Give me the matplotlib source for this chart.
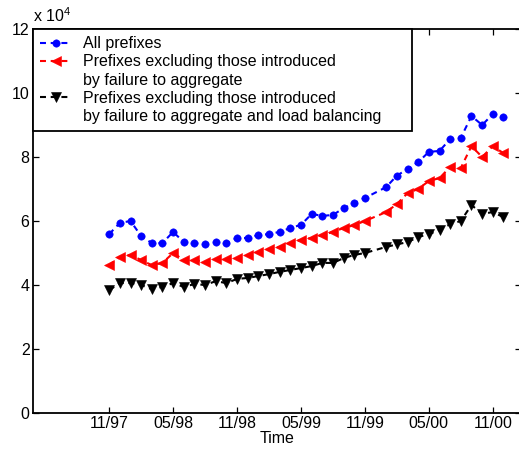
import matplotlib
matplotlib.use("Agg")
import matplotlib.pyplot as plt
from matplotlib.lines import Line2D
from matplotlib.ticker import FixedLocator, FuncFormatter

plt.rcParams["font.family"] = ["Liberation Sans", "DejaVu Sans"]
plt.rcParams["mathtext.fontset"] = "custom"
plt.rcParams["mathtext.rm"] = "Liberation Sans"
plt.rcParams["mathtext.it"] = "Liberation Sans"
plt.rcParams["lines.scale_dashes"] = False

FS = 11.5

# Monthly samples (Dec 1999 is missing from the record)
dates = [
    "1997-11", "1997-12", "1998-01", "1998-02", "1998-03", "1998-04",
    "1998-05", "1998-06", "1998-07", "1998-08", "1998-09", "1998-10",
    "1998-11", "1998-12", "1999-01", "1999-02", "1999-03", "1999-04",
    "1999-05", "1999-06", "1999-07", "1999-08", "1999-09", "1999-10",
    "1999-11", "2000-01", "2000-02", "2000-03", "2000-04",
    "2000-05", "2000-06", "2000-07", "2000-08", "2000-09", "2000-10",
    "2000-11", "2000-12",
]

all_prefixes = [
    55900, 59400, 60000, 55300, 53100, 53100, 56600, 53400, 53100, 52700,
    53400, 53000, 54700, 54700, 55600, 55900, 56600, 57800, 58800, 62200,
    61600, 61900, 64000, 65600, 67200, 70600, 74200, 76200, 78400,
    81600, 81900, 85600, 86000, 92800, 90000, 93400, 92500,
]

excl_aggregation = [
    46200, 48800, 49400, 47800, 46200, 46900, 50000, 47800, 47800, 47200,
    48100, 48100, 48400, 49400, 50300, 51200, 51900, 53100, 54100, 54700,
    55600, 56600, 57800, 58700, 60000, 62800, 65300, 68700, 70000,
    72500, 73400, 76900, 76600, 83400, 80000, 83400, 81200,
]

excl_aggr_and_lb = [
    38400, 40600, 40600, 40000, 38700, 39400, 40600, 39400, 40300, 40000,
    41200, 40600, 41900, 42200, 42800, 43400, 44100, 44700, 45300, 45900,
    46900, 46900, 48400, 49400, 50000, 51900, 52700, 53400, 55000,
    55900, 57200, 59000, 60000, 65000, 62200, 62800, 61200,
]

tick_dates = ["1997-11", "1998-05", "1998-11", "1999-05", "1999-11", "2000-05", "2000-11"]
tick_labels = ["11/97", "05/98", "11/98", "05/99", "11/99", "05/00", "11/00"]
ytick_values = [0, 20000, 40000, 60000, 80000, 100000, 120000]

labels = [
    "All prefixes",
    "Prefixes excluding those introduced\nby failure to aggregate",
    "Prefixes excluding those introduced\nby failure to aggregate and load balancing",
]


def month_index(s):
    y, m = s.split("-")
    return (int(y) - 1997) * 12 + int(m) - 11


x = [month_index(d) for d in dates]
tick_pos = [month_index(d) for d in tick_dates]

fig = plt.figure(figsize=(5.19, 4.51), dpi=100)
ax = fig.add_axes([33 / 519, (451 - 413) / 451, (520.5 - 33) / 519, (413 - 29) / 451])

common = dict(linestyle="--", dashes=(4.3, 3.4), linewidth=1.5)
l1, = ax.plot(x, all_prefixes, color="#0000ff", marker="o", markersize=5.3,
              markeredgewidth=0.4, **common)
l2, = ax.plot(x, excl_aggregation, color="#ff0000", marker="<", markersize=7.2,
              markeredgewidth=0.4, **common)
l3, = ax.plot(x, excl_aggr_and_lb, color="#000000", marker="v", markersize=7.2,
              markeredgewidth=0.4, **common)

ax.set_xlim(-7.15, 38.6)
ax.set_ylim(0, 120000)
ax.xaxis.set_major_locator(FixedLocator(tick_pos))
ax.set_xticklabels(tick_labels)
ax.yaxis.set_major_locator(FixedLocator(ytick_values))
ax.yaxis.set_major_formatter(FuncFormatter(lambda v, p: f"{v / 1e4:g}"))

ax.tick_params(direction="in", length=4.5, width=0.9, top=True, right=True,
               labelsize=FS, colors="black")
ax.tick_params(axis="x", pad=2.0)
ax.tick_params(axis="y", pad=2.5)
for sp in ax.spines.values():
    sp.set_linewidth(1.3)

ax.set_xlabel("Time", fontsize=FS, labelpad=0.0)
ax.annotate("x 10$^4$", xy=(0, 1), xycoords="axes fraction", xytext=(0, 3),
            textcoords="offset points", ha="left", va="bottom", fontsize=FS)

# Legend: continuation lines become rows with empty handles
blank = Line2D([], [], linestyle="none", marker="none")
first1, second1 = labels[1].split("\n")
first2, second2 = labels[2].split("\n")
leg = ax.legend([l1, l2, blank, l3, blank],
                [labels[0], first1, second1, first2, second2],
                loc="upper left", bbox_to_anchor=(0, 0, 0.777, 1), mode="expand",
                borderaxespad=0, fontsize=FS, numpoints=1, handlelength=1.95,
                handletextpad=0.75, labelspacing=0.2, borderpad=0.45,
                fancybox=False, framealpha=1, edgecolor="black")
leg.get_frame().set_linewidth(1.3)

fig.savefig("out.png", dpi=100)
